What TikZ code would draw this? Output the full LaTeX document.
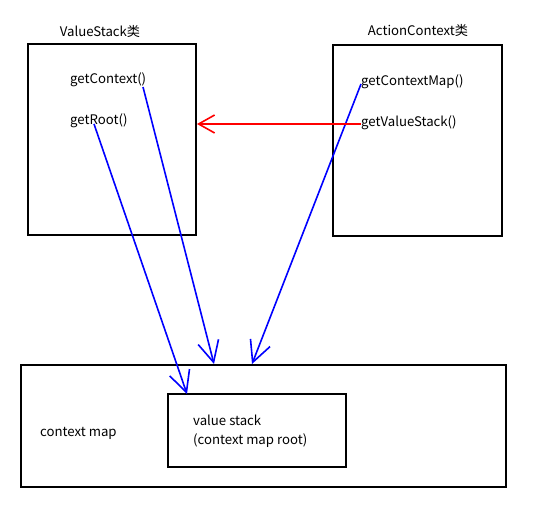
\documentclass[tikz,border=0pt]{standalone}
\usepackage{fontspec}
\setmainfont{Noto Sans CJK SC}
\usetikzlibrary{arrows.meta}
\begin{document}
\begin{tikzpicture}[x=1pt,y=-1pt,
  box/.style={draw=black,line width=2pt},
  lbl/.style={inner sep=0pt,anchor=west,font=\fontsize{13.2}{19}\selectfont},
  ttl/.style={inner sep=0pt,font=\fontsize{13.2}{19}\selectfont},
  blue arrow/.style={draw={rgb,255:red,0;green,0;blue,255},line width=1.6pt,-{Straight Barb[length=21pt,width=21pt,line width=1.6pt]}},
  red arrow/.style={draw={rgb,255:red,255;green,0;blue,0},line width=1.6pt,-{Straight Barb[length=16pt,width=18pt,line width=1.6pt]}}]
\useasboundingbox (0,0) rectangle (551,505);
% boxes
\draw[box] (28,44) rectangle (196,235);
\draw[box] (333,45) rectangle (502,236);
\draw[box] (21,365) rectangle (506,487);
\draw[box] (168,394) rectangle (346,467);
% titles
\node[ttl] (vst) at (100,31) {ValueStack类};
\node[ttl] (act) at (418,30) {ActionContext类};
% method labels
\node[lbl] (gc) at (70,80) {getContext()};
\node[lbl] (gr) at (70,121) {getRoot()};
\node[lbl] (gcm) at (361,82) {getContextMap()};
\node[lbl] (gvs) at (361,123) {getValueStack()};
\node[lbl] (cm) at (40,433) {context map};
\node[lbl,align=left] (vs) at (193,431) {value stack\\(context map root)};
% connector endpoints
\coordinate (gcS) at (143,87);
\coordinate (grS) at (94,124);
\coordinate (gcmS) at (361,84);
\coordinate (gvsS) at (361,124);
\coordinate (t1) at (214,364);
\coordinate (t2) at (187,394);
\coordinate (t3) at (252,364);
\coordinate (t4) at (197,124);
\draw[blue arrow] (gcS) -- (t1);
\draw[blue arrow] (grS) -- (t2);
\draw[blue arrow] (gcmS) -- (t3);
\draw[red arrow] (gvsS) -- (t4);
\end{tikzpicture}
\end{document}
